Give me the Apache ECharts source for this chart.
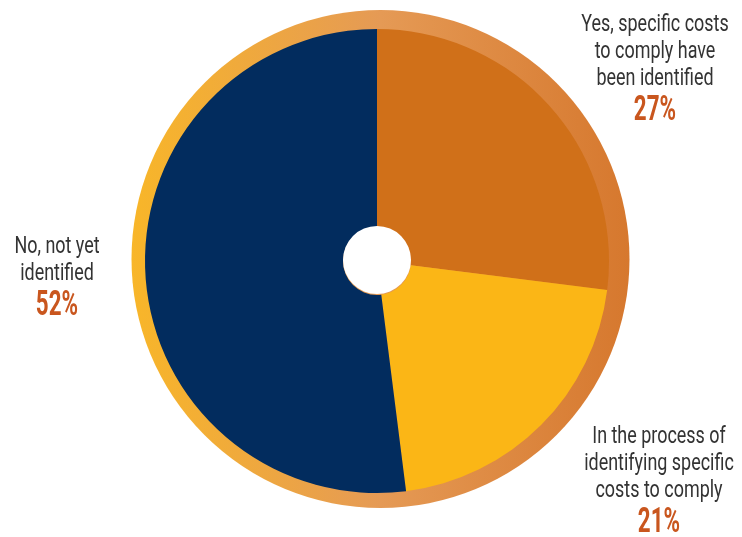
<!DOCTYPE html>
<html>
<head>
<meta charset="utf-8">
<script src="https://cdn.jsdelivr.net/npm/echarts@6/dist/echarts.min.js"></script>
<style>
  html, body { margin: 0; padding: 0; background: #fff; }
  #chart { width: 742px; height: 537px; }
</style>
</head>
<body>
<div id="chart"></div>
<script>
// Survey answers: have specific compliance costs been identified?
const categories = [
  'Yes, specific costs\nto comply have\nbeen identified',
  'In the process of\nidentifying specific\ncosts to comply',
  'No, not yet\nidentified'
];
const values = [27, 21, 52];
const sliceColors = ['#D07019', '#FBB616', '#022C5E'];

// Label anchor points (centre of first line) and line layout
const labelAnchors = [[655, 25], [659, 437], [57, 247]];
const lineHeight = 27;

const chart = echarts.init(document.getElementById('chart'));

const graphics = [];
categories.forEach((name, i) => {
  const lines = name.split('\n');
  const [cx, cy] = labelAnchors[i];
  lines.forEach((ln, j) => {
    graphics.push({
      type: 'text',
      x: cx, y: cy + j * lineHeight,
      scaleX: 0.78,
      style: {
        text: ln,
        fill: '#333333',
        font: '23px Roboto, "Liberation Sans", sans-serif',
        align: 'center', verticalAlign: 'middle'
      }
    });
  });
  graphics.push({
    type: 'text',
    x: cx, y: cy + lines.length * lineHeight + 5,
    scaleX: 0.64,
    style: {
      text: values[i] + '%',
      fill: '#C9561E',
      font: 'bold 35px Roboto, "Liberation Sans", sans-serif',
      align: 'center', verticalAlign: 'middle'
    }
  });
});

chart.setOption({
  animation: false,
  backgroundColor: '#ffffff',
  graphic: graphics,
  series: [
    {
      // decorative rim behind the pie
      type: 'pie',
      silent: true,
      z: 1,
      center: [380.5, 259],
      radius: [0, 249],
      label: { show: false },
      labelLine: { show: false },
      data: [{
        value: 1,
        itemStyle: {
          color: new echarts.graphic.LinearGradient(0, 0, 1, 0, [
            { offset: 0, color: '#F8B629' },
            { offset: 0.5, color: '#E59A55' },
            { offset: 1, color: '#D6782E' }
          ])
        }
      }]
    },
    {
      type: 'pie',
      z: 2,
      center: [377, 261],
      radius: [34, 232],
      startAngle: 90,
      clockwise: true,
      label: { show: false },
      labelLine: { show: false },
      itemStyle: { borderWidth: 0 },
      data: categories.map((name, i) => ({
        name: name,
        value: values[i],
        itemStyle: { color: sliceColors[i] }
      }))
    },
    {
      // white hub in the middle
      type: 'pie',
      silent: true,
      z: 3,
      center: [377, 260],
      radius: [0, 34],
      label: { show: false },
      labelLine: { show: false },
      data: [{ value: 1, itemStyle: { color: '#ffffff' } }]
    }
  ]
});
</script>
</body>
</html>
